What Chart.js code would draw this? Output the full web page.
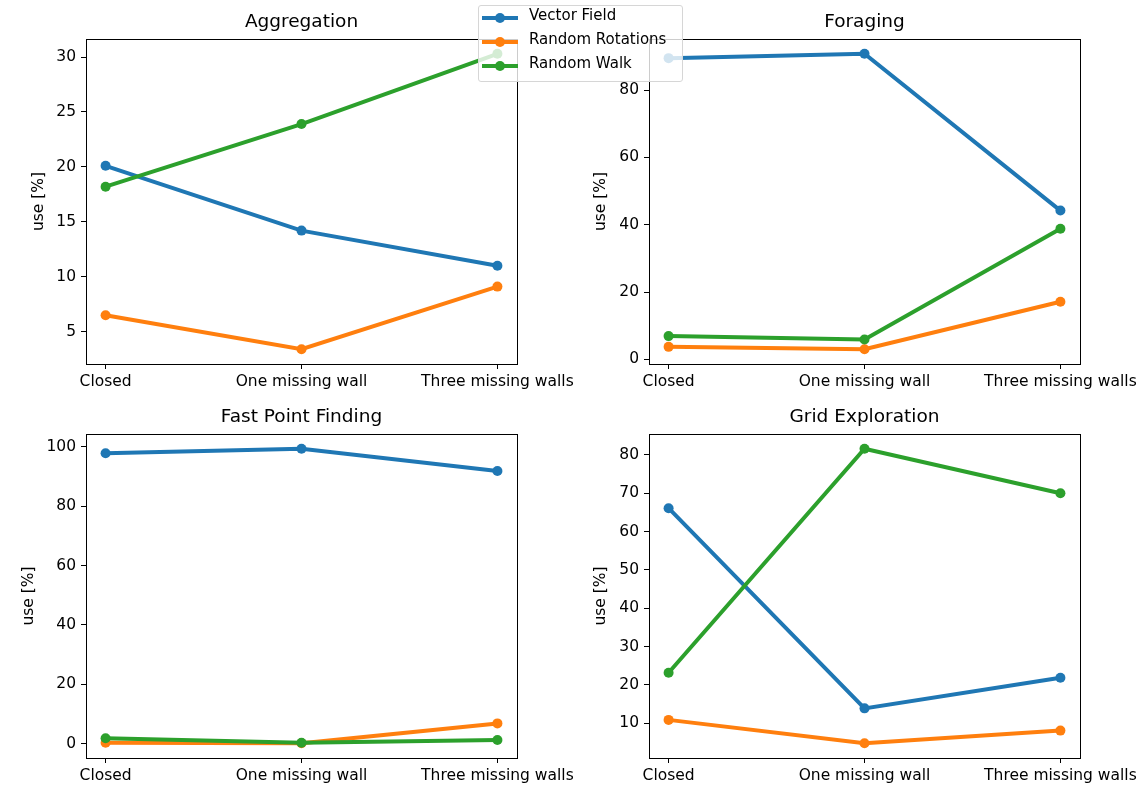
<!DOCTYPE html>
<html>
<head>
<meta charset="utf-8">
<script src="https://cdn.jsdelivr.net/npm/chart.js@4.4.1/dist/chart.umd.min.js"></script>
<style>
body { margin: 0; background: #fff; }
#wrap { position: relative; width: 1146px; height: 794px; }
canvas { position: absolute; left: 0; top: 0; }
#legend {
  position: absolute; left: 478px; top: 5px; width: 205px; height: 77px;
  background: rgba(255, 255, 255, 0.8); border: 1px solid #d6d6d6; border-radius: 3px;
  box-sizing: border-box;
}
#legend .row { position: relative; height: 24px; line-height: 24px; padding-left: 50px;
  font: 15px "DejaVu Sans"; color: #000; white-space: nowrap; }
#legend .line { position: absolute; left: 3px; top: 10px; width: 36px; height: 4px; }
#legend .dot { position: absolute; left: 13px; top: -3px; width: 10px; height: 10px; border-radius: 50%; }
</style>
</head>
<body>
<div id="wrap">
  <canvas id="c1" width="1146" height="794"></canvas>
  <canvas id="c2" width="1146" height="794"></canvas>
  <canvas id="c3" width="1146" height="794"></canvas>
  <canvas id="c4" width="1146" height="794"></canvas>
  <div id="legend"></div>
</div>
<script>
var categories = ['Closed', 'One missing wall', 'Three missing walls'];
var seriesNames = ['Vector Field', 'Random Rotations', 'Random Walk'];
var colors = ['#1f77b4', '#ff7f0e', '#2ca02c'];

// values, one array per series
var aggVector = [20.1, 14.2, 11.0];
var aggRotations = [6.5, 3.4, 9.1];
var aggWalk = [18.2, 23.9, 30.3];
var aggTicks = [5, 10, 15, 20, 25, 30];

var forVector = [89.5, 90.8, 44.2];
var forRotations = [3.7, 3.0, 17.1];
var forWalk = [6.9, 5.9, 38.8];
var forTicks = [0, 20, 40, 60, 80];

var fpfVector = [97.9, 99.4, 91.9];
var fpfRotations = [0.3, 0.1, 6.8];
var fpfWalk = [1.8, 0.3, 1.2];
var fpfTicks = [0, 20, 40, 60, 80, 100];

var gridVector = [66.1, 13.9, 21.9];
var gridRotations = [10.9, 4.8, 8.1];
var gridWalk = [23.2, 81.6, 70.0];
var gridTicks = [10, 20, 30, 40, 50, 60, 70, 80];

var FONT = 'DejaVu Sans';
var TICK_SIZE = 15.5;
var TITLE_SIZE = 18.5;
var Y_W = 80;
var X_H = 30;

var framePlugin = {
  id: 'frame',
  afterDraw: function (chart) {
    var a = chart.chartArea;
    var ctx = chart.ctx;
    ctx.save();
    ctx.strokeStyle = '#000';
    ctx.lineWidth = 1;
    ctx.strokeRect(Math.round(a.left) + 0.5, Math.round(a.top) + 0.5,
      Math.round(a.right - a.left), Math.round(a.bottom - a.top));
    ctx.restore();
  }
};

function makeChart(id, title, series, ticks, box, yLabelX) {
  var all = [].concat.apply([], series);
  var lo = Math.min.apply(null, all);
  var hi = Math.max.apply(null, all);
  var pad = (hi - lo) * 0.05;

  var datasets = series.map(function (vals, i) {
    return {
      label: seriesNames[i],
      data: vals.map(function (v, j) { return { x: j, y: v }; }),
      borderColor: colors[i],
      backgroundColor: colors[i],
      borderWidth: 4,
      pointRadius: 5,
      pointBorderWidth: 0,
      pointBackgroundColor: colors[i],
      tension: 0,
      order: series.length - i
    };
  });

  var titleLH = TITLE_SIZE * 1.2;

  return new Chart(document.getElementById(id), {
    type: 'line',
    data: { datasets: datasets },
    options: {
      responsive: false,
      animation: false,
      events: [],
      layout: {
        padding: {
          left: box.left - Y_W,
          right: 1146 - box.right,
          top: box.top - 39,
          bottom: 794 - box.bottom - X_H
        }
      },
      plugins: {
        legend: { display: false },
        tooltip: { enabled: false },
        title: {
          display: true,
          text: title,
          fullSize: false,
          color: '#000',
          font: { family: FONT, size: TITLE_SIZE, weight: 'normal' },
          padding: { top: 22 - titleLH / 2, bottom: 17 - titleLH / 2 }
        }
      },
      scales: {
        x: {
          type: 'linear',
          min: -0.1,
          max: 2.1,
          afterBuildTicks: function (s) {
            s.ticks = categories.map(function (c, i) { return { value: i }; });
          },
          afterFit: function (s) { s.height = X_H; },
          grid: { drawOnChartArea: false, tickLength: 5, color: '#000' },
          border: { display: false },
          ticks: {
            color: '#000',
            font: { family: FONT, size: TICK_SIZE },
            padding: 4,
            maxRotation: 0,
            autoSkip: false,
            callback: function (v) { return categories[v]; }
          }
        },
        y: {
          min: lo - pad,
          max: hi + pad,
          afterBuildTicks: function (s) {
            s.ticks = ticks.map(function (v) { return { value: v }; });
          },
          afterFit: function (s) { s.width = Y_W; },
          grid: { drawOnChartArea: false, tickLength: 5, color: '#000' },
          border: { display: false },
          ticks: {
            color: '#000',
            font: { family: FONT, size: TICK_SIZE },
            padding: 5
          },
          title: {
            display: true,
            text: 'use [%]',
            color: '#000',
            font: { family: FONT, size: TICK_SIZE },
            padding: { top: yLabelX - (box.left - Y_W) - TICK_SIZE * 0.6, bottom: 0 }
          }
        }
      }
    },
    plugins: [framePlugin]
  });
}

makeChart('c1', 'Aggregation', [aggVector, aggRotations, aggWalk], aggTicks,
  { left: 86, right: 517, top: 39, bottom: 364 }, 39);
makeChart('c2', 'Foraging', [forVector, forRotations, forWalk], forTicks,
  { left: 649, right: 1080, top: 39, bottom: 364 }, 601);
makeChart('c3', 'Fast Point Finding', [fpfVector, fpfRotations, fpfWalk], fpfTicks,
  { left: 86, right: 517, top: 434, bottom: 758 }, 29);
makeChart('c4', 'Grid Exploration', [gridVector, gridRotations, gridWalk], gridTicks,
  { left: 649, right: 1080, top: 434, bottom: 758 }, 601);

var legend = document.getElementById('legend');
seriesNames.forEach(function (name, i) {
  var row = document.createElement('div');
  row.className = 'row';
  row.innerHTML = '<span class="line" style="background:' + colors[i] + '">' +
    '<span class="dot" style="background:' + colors[i] + '"></span></span>' + name;
  legend.appendChild(row);
});
</script>
</body>
</html>
